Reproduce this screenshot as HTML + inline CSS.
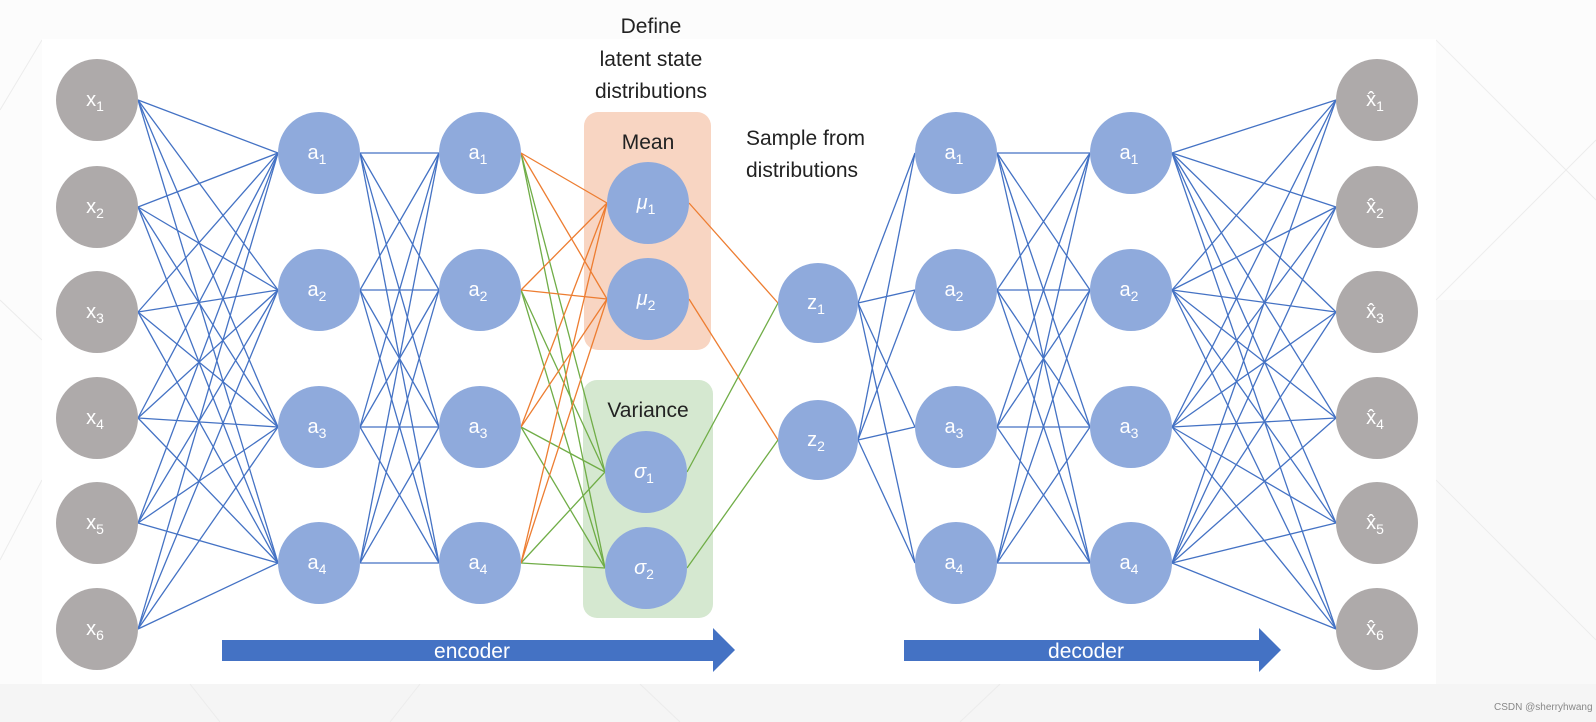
<!DOCTYPE html>
<html><head><meta charset="utf-8"><style>
html,body{margin:0;padding:0;background:#fbfbfb;}
svg{display:block;}
text{font-family:"Liberation Sans",sans-serif;}
</style></head><body>
<svg id="s" width="1596" height="722" viewBox="0 0 1596 722" xmlns="http://www.w3.org/2000/svg">
<rect x="0" y="0" width="1596" height="722" fill="#fcfcfc"/>
<rect x="0" y="684" width="1596" height="38" fill="#f5f5f5"/>
<rect x="1436" y="300" width="160" height="384" fill="#f9f9f9"/>
<g stroke="#ececec" stroke-width="1" fill="none">
<line x1="0" y1="110" x2="42" y2="40"/><line x1="0" y1="300" x2="42" y2="340"/><line x1="0" y1="560" x2="42" y2="480"/>
<line x1="1436" y1="40" x2="1596" y2="200"/><line x1="1436" y1="300" x2="1596" y2="140"/><line x1="1436" y1="480" x2="1596" y2="640"/>
<line x1="190" y1="684" x2="220" y2="722"/><line x1="420" y1="684" x2="390" y2="722"/><line x1="640" y1="684" x2="680" y2="722"/><line x1="1000" y1="684" x2="960" y2="722"/>
</g>
<rect x="42" y="39" width="1394" height="645" fill="#ffffff"/>
<rect x="584" y="112" width="127" height="238" rx="14" fill="#f8d5c2"/>
<rect x="583" y="380" width="130" height="238" rx="14" fill="#d5e8d0"/>
<g id="lines" stroke-width="1.3" fill="none"></g>
<g id="nodes"></g>
<g font-size="21" fill="#222" text-anchor="middle">
<text x="651" y="33">Define</text>
<text x="651" y="66">latent state</text>
<text x="651" y="98">distributions</text>
<text x="648" y="149">Mean</text>
<text x="648" y="417">Variance</text>
</g>
<g font-size="21" fill="#222">
<text x="746" y="145">Sample from</text>
<text x="746" y="177">distributions</text>
</g>
<polygon points="222,640 713,640 713,628 735,650 713,672 713,661 222,661" fill="#4472c4"/>
<polygon points="904,640 1259,640 1259,628 1281,650 1259,672 1259,661 904,661" fill="#4472c4"/>
<text x="472" y="658" font-size="21" fill="#fff" text-anchor="middle">encoder</text>
<text x="1086" y="658" font-size="21" fill="#fff" text-anchor="middle">decoder</text>
<text x="1494" y="710" font-size="10" fill="#888">CSDN @sherryhwang</text>
</svg>
<script>
var NS="http://www.w3.org/2000/svg";
var R=41;
var X=[100,207,312,418,523,629],A=[153,290,427,563];
var L={x:{cx:97,ys:X},e1:{cx:319,ys:A},e2:{cx:480,ys:A},mu:{cx:648,ys:[203,299]},sg:{cx:646,ys:[472,568]},z:{cx:818,ys:[303,440],r:40},d1:{cx:956,ys:A},d2:{cx:1131,ys:A},o:{cx:1377,ys:X}};
var lg=document.getElementById('lines'),ng=document.getElementById('nodes');
function ln(x1,y1,x2,y2,c){var l=document.createElementNS(NS,'line');l.setAttribute('x1',x1);l.setAttribute('y1',y1);l.setAttribute('x2',x2);l.setAttribute('y2',y2);l.setAttribute('stroke',c);lg.appendChild(l);}
function full(a,b,c){var A1=L[a],B=L[b];var ra=A1.r||R,rb=B.r||R;A1.ys.forEach(function(y1){B.ys.forEach(function(y2){ln(A1.cx+ra,y1,B.cx-rb,y2,c);});});}
var BL="#4472c4",OR="#ed7d31",GR="#70ad47";
full('x','e1',BL);full('e1','e2',BL);full('e2','sg',GR);full('e2','mu',OR);
ln(648+R,203,818-40,303,OR);ln(648+R,299,818-40,440,OR);
ln(646+R,472,818-40,303,GR);ln(646+R,568,818-40,440,GR);
full('z','d1',BL);full('d1','d2',BL);full('d2','o',BL);
function node(cx,cy,r,fill,lab,sub){var c=document.createElementNS(NS,'circle');c.setAttribute('cx',cx);c.setAttribute('cy',cy);c.setAttribute('r',r);c.setAttribute('fill',fill);ng.appendChild(c);
var t=document.createElementNS(NS,'text');t.setAttribute('x',cx-2);t.setAttribute('y',cy+6);t.setAttribute('text-anchor','middle');t.setAttribute('fill','#fff');t.setAttribute('font-size','20');
var s1=document.createElementNS(NS,'tspan');s1.textContent=lab;if(lab=='μ'||lab=='σ')s1.setAttribute('font-style','italic');t.appendChild(s1);
var s2=document.createElementNS(NS,'tspan');s2.textContent=sub;s2.setAttribute('font-size','14');s2.setAttribute('dy','5');t.appendChild(s2);ng.appendChild(t);}
var G="#aeaaaa",B2="#8faadc";
X.forEach(function(y,i){node(97,y,R,G,'x',i+1);node(1377,y,R,G,'x̂',i+1);});
A.forEach(function(y,i){node(319,y,R,B2,'a',i+1);node(480,y,R,B2,'a',i+1);node(956,y,R,B2,'a',i+1);node(1131,y,R,B2,'a',i+1);});
node(648,203,R,B2,'μ',1);node(648,299,R,B2,'μ',2);node(646,472,R,B2,'σ',1);node(646,568,R,B2,'σ',2);
node(818,303,40,B2,'z',1);node(818,440,40,B2,'z',2);
</script>
</body></html>
